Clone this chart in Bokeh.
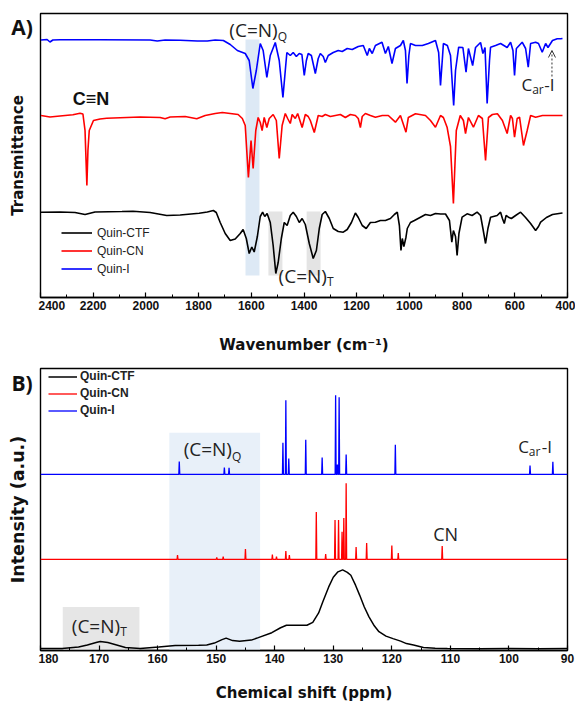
import numpy as np
from bokeh.plotting import figure
from bokeh.models import Range1d, FixedTicker, Label, Legend, LegendItem, Arrow, OpenHead
from bokeh.layouts import column, row
from bokeh.embed import file_html
from bokeh.resources import INLINE

# ------------------------------------------------------------------ data
# Panel A: FTIR (wavenumber in cm-1, transmittance in offset arbitrary units)
ir_ticks = [2400, 2200, 2000, 1800, 1600, 1400, 1200, 1000, 800, 600, 400]
ir_minor = [2300, 2100, 1900, 1700, 1500, 1300, 1100, 900, 700, 500]

blue_wn = [2398, 2375, 2364, 2353, 2326, 2174, 1984, 1957, 1927, 1870,
           1805, 1767, 1737, 1706, 1680, 1653, 1623, 1608, 1594, 1581,
           1566, 1555, 1541, 1528, 1509, 1494, 1480, 1471, 1465, 1452,
           1441, 1429, 1418, 1408, 1399, 1391, 1384, 1372, 1357, 1346,
           1338, 1327, 1319, 1308, 1289, 1270, 1255, 1236, 1217, 1194,
           1175, 1160, 1152, 1141, 1129, 1104, 1091, 1080, 1066, 1053,
           1034, 1023, 1015, 1009, 1002, 996, 977, 951, 928, 901,
           889, 882, 874, 871, 856, 844, 832, 825, 813, 797,
           785, 776, 760, 749, 730, 721, 713, 705, 696, 692,
           673, 654, 629, 616, 607, 601, 594, 572, 559, 549,
           540, 521, 510, 496, 483, 474, 457, 439, 426, 419]
blue_t = [257.5, 258, 255.5, 257.5, 257.7, 257.7, 257.5, 256.5, 257.5, 257.2,
          256.5, 256.5, 257.5, 257, 253, 247, 244, 237, 209, 227,
          254, 247, 220, 242, 255, 237, 200, 227, 245, 242,
          245, 241, 244, 243, 222, 237, 244, 242, 224, 239,
          244, 241, 235, 242, 245, 247, 246, 249, 248, 251,
          252, 242, 249, 244, 252, 255.3, 244, 251, 234, 249,
          252, 257, 247, 214, 242, 254, 252, 252, 254, 257,
          245, 212, 242, 254, 252, 242, 192, 227, 250.3, 250,
          225.3, 249, 232, 250, 255, 244, 250, 194, 237, 250.3,
          252, 254, 250, 255.3, 247, 222, 249, 255.3, 249, 230.3,
          254, 255.3, 254, 245.3, 254, 250, 257, 258.7, 258.7, 259]

red_wn = [2398, 2364, 2326, 2277, 2250, 2239, 2231, 2224, 2220, 2215,
          2199, 2174, 2149, 2098, 2022, 1946, 1927, 1908, 1851, 1807,
          1775, 1737, 1710, 1680, 1650, 1634, 1623, 1611, 1601, 1593,
          1583, 1574, 1566, 1559, 1551, 1541, 1532, 1517, 1505, 1494,
          1483, 1471, 1462, 1452, 1445, 1433, 1424, 1407, 1395, 1384,
          1376, 1361, 1346, 1331, 1319, 1300, 1281, 1262, 1243, 1224,
          1205, 1194, 1186, 1179, 1167, 1148, 1129, 1103, 1080, 1053,
          1034, 1013, 1004, 977, 939, 920, 901, 882, 871, 857,
          844, 833, 822, 807, 795, 787, 776, 757, 738, 723,
          711, 700, 685, 666, 647, 629, 616, 609, 601, 591,
          582, 567, 553, 540, 521, 495, 457, 426, 419]
red_t = [182, 180.5, 181.5, 182.7, 184.3, 183.5, 167, 112, 147, 167,
         177, 178.5, 179.3, 179.8, 180.5, 180, 178.7, 180.5, 181, 178.7,
         182, 184, 185, 184, 183, 179, 172, 120, 157, 129,
         167, 180, 175, 167, 180, 170, 179, 183, 177, 139,
         172, 184, 179, 174, 183, 179, 184, 170, 183, 181,
         177, 165, 182, 181, 183, 181, 182, 183, 180, 183,
         182, 179, 170, 181, 184, 182, 180.3, 182, 182, 175.3,
         182, 165.3, 180, 183.7, 182, 177, 170.3, 182, 180, 170.3,
         151, 94, 167, 182, 177, 164, 180, 170.3, 182, 179,
         137, 180, 183, 183.7, 177, 164, 182, 179, 160.3, 179,
         180.3, 152, 167, 182, 180.3, 182, 182, 182, 182]

black_wn = [2398, 2326, 2269, 2231, 2193, 2091, 2049, 1984, 1921, 1870,
            1798, 1767, 1744, 1733, 1718, 1699, 1680, 1661, 1642, 1631,
            1619, 1608, 1598, 1589, 1577, 1566, 1557, 1549, 1540, 1528,
            1517, 1507, 1498, 1486, 1475, 1464, 1452, 1441, 1429, 1418,
            1407, 1395, 1380, 1365, 1353, 1342, 1331, 1319, 1304, 1289,
            1270, 1251, 1236, 1220, 1205, 1194, 1179, 1164, 1148, 1129,
            1110, 1091, 1072, 1057, 1046, 1038, 1032, 1027, 1021, 1013,
            1008, 996, 981, 958, 939, 920, 901, 882, 863, 848,
            839, 833, 825, 819, 812, 800, 781, 762, 743, 730,
            721, 711, 702, 692, 667, 654, 647, 640, 633, 624,
            613, 597, 578, 560, 540, 521, 510, 502, 480, 457,
            426, 419]
black_t = [85.3, 85.5, 85, 83, 85.5, 86, 86.3, 85, 82, 82.5,
           84.3, 85.5, 87, 85, 75, 64, 57, 58.5, 64, 68,
           59, 44, 50.5, 45.5, 61, 81, 85.3, 81, 84, 75,
           52, 24, 35, 59, 75, 72, 82, 85.3, 81, 75,
           79, 73, 54, 39, 47, 69, 83, 86, 79, 69,
           66, 65.3, 68, 75, 84.5, 80, 72, 69, 75, 75.3,
           77, 77, 79, 83, 85.3, 72, 47, 59, 51, 60.3,
           69, 75, 77, 80.3, 83, 82, 84, 83.5, 83.5, 77,
           55.3, 67, 61, 42, 64, 80.3, 83.7, 82, 85.3, 82,
           69, 54, 69, 80.3, 82, 85.3, 79, 74, 82, 80.3,
           79, 82, 85.3, 80.3, 74, 67, 71, 75.3, 80, 83,
           84.3, 84.5]

# Panel B: 13C NMR (chemical shift in ppm, intensity in arbitrary units)
nmr_ticks = [180, 170, 160, 150, 140, 130, 120, 110, 100, 90]
nmr_minor = [175, 165, 155, 145, 135, 125, 115, 105, 95]

quin_i_ppm = [156.3, 148.6, 147.8, 138.6, 138.1, 137.6, 134.7, 131.9, 129.6, 129.3,
              129.0, 127.8, 119.4, 96.4, 92.5]
quin_i_int = [13, 7, 6.7, 32, 75, 16, 35, 17, 80, 10,
              78, 20, 30, 9, 12.7]

quin_cn_ppm = [156.6, 149.9, 148.8, 145.0, 140.4, 139.7, 138.1, 137.5, 132.9, 131.3,
               129.7, 129.1, 128.5, 128.2, 127.8, 126.1, 124.3, 120.0, 118.9, 111.4]
quin_cn_int = [4.5, 2, 3, 10.5, 5, 3, 8.5, 4.5, 48, 5.5,
               40, 40, 28, 42, 77, 12.5, 16.5, 14, 6.5, 13.5]

ctf_ppm = [180.0, 176.3, 173.5, 172.0, 170.5, 169.8, 168.5, 167.3, 165.5, 163.0,
           159.8, 157.0, 153.0, 151.6, 150.3, 149.0, 148.3, 147.2, 146.0, 144.0,
           142.8, 140.5, 139.0, 138.0, 136.5, 134.5, 133.5, 132.5, 131.8, 130.8,
           130.0, 129.2, 128.4, 127.6, 127.0, 126.2, 125.5, 124.7, 123.9, 123.0,
           122.2, 121.0, 119.8, 118.5, 117.5, 116.3, 114.6, 112.6, 110.5, 105.0,
           100.0, 95.0, 90.0]
ctf_int = [2, 2, 3.5, 5.5, 8, 9, 8, 6, 3, 2,
           3.5, 5, 5.3, 5.5, 7.5, 11, 12.5, 10, 9.3, 10.5,
           13, 18, 23, 25.5, 25.5, 25.5, 28.5, 38, 49, 64,
           74, 79.5, 81.5, 79, 76, 66, 56, 44, 34, 25,
           19, 14.5, 12, 9.5, 7, 5.5, 3, 2.3, 2, 1.8,
           2, 1.8, 2]

offset_quin_i = 178     # vertical offset of the Quin-I trace (panel B)
offset_quin_cn = 92     # vertical offset of the Quin-CN trace (panel B)

series_names = ["Quin-CTF", "Quin-CN", "Quin-I"]
series_colors = ["#000000", "#ff0000", "#0000ff"]

# highlighted regions
ir_band_q = (1622, 1569)
ir_bands_t = [(1535, 1482), (1390, 1337)]
nmr_band_q = (158.0, 142.5)
nmr_band_t = (176.2, 163.1)

# ------------------------------------------------------------------ helpers
TITLE_FONT = "DejaVu Sans"
TICK_FONT = "Liberation Sans"
ANN_FONT = "Open Sans"
ANN_COLOR = "#222222"
STRIP_W = 38


def stick_trace(ppm, inten, base, hi=180.0, lo=90.0, half=0.08):
    ppm = np.asarray(ppm, float)
    inten = np.asarray(inten, float)
    order = np.argsort(ppm)[::-1]
    xs, ys = [hi], [base]
    for i in order:
        xs += [ppm[i] + half, ppm[i], ppm[i] - half]
        ys += [base, base + inten[i], base]
    xs.append(lo)
    ys.append(base)
    return xs, ys


def style(p, ticks, minor, xtitle, xstand):
    p.grid.visible = False
    p.outline_line_color = "black"
    p.outline_line_width = 1.4
    p.background_fill_color = "white"
    p.border_fill_color = "white"
    p.yaxis.visible = False
    xa = p.xaxis[0]
    xa.ticker = FixedTicker(ticks=ticks, minor_ticks=minor)
    xa.major_tick_in = 5
    xa.major_tick_out = 0
    xa.minor_tick_in = 3
    xa.minor_tick_out = 0
    xa.axis_line_width = 1.4
    xa.major_tick_line_width = 1.2
    xa.minor_tick_line_width = 1.0
    xa.major_label_text_font = TICK_FONT
    xa.major_label_text_font_style = "bold"
    xa.major_label_text_font_size = "12px"
    xa.major_label_text_color = "#111111"
    xa.major_label_standoff = 3
    xa.axis_label = xtitle
    xa.axis_label_text_font = TITLE_FONT
    xa.axis_label_text_font_style = "bold"
    xa.axis_label_text_font_size = "15px"
    xa.axis_label_text_color = "#111111"
    xa.axis_label_standoff = xstand


def label(p, x, y, text, size, font=ANN_FONT, style="normal", align="left",
          color=ANN_COLOR, angle=0.0):
    p.add_layout(Label(x=x, y=y, text=text, text_font=font, text_font_size=size,
                       text_font_style=style, text_align=align, text_baseline="middle",
                       text_color=color, angle=angle))


def strip(height, top, bottom, tag, tag_y, title, title_y, title_size):
    """Left margin strip (frame aligned with the panel frame) holding the panel
    letter and the vertical axis title; its y data equal pixels from the bottom."""
    s = figure(width=STRIP_W, height=height, x_range=Range1d(0, STRIP_W),
               y_range=Range1d(bottom, height - top), output_backend="svg",
               toolbar_location=None, title=None, x_axis_location=None, y_axis_location=None,
               min_border_left=0, min_border_right=0,
               min_border_top=top, min_border_bottom=bottom)
    s.grid.visible = False
    s.outline_line_color = None
    s.background_fill_color = "white"
    s.border_fill_color = "white"
    label(s, 21.5, height - tag_y, tag, "21px", font=ANN_FONT, style="bold", align="center",
          color="#111111")
    label(s, 17, height - title_y, title, title_size, font=TITLE_FONT, style="bold",
          align="center", color="#111111", angle=np.pi / 2)
    return s


# ------------------------------------------------------------------ panel A
HA, TOP_A, BOT_A = 360, 13, 63
pA = figure(width=576 - STRIP_W - 1, height=HA, x_range=Range1d(2400, 400),
            y_range=Range1d(0, 284), output_backend="svg", toolbar_location=None, title=None,
            min_border_left=2, min_border_right=8, min_border_top=TOP_A,
            min_border_bottom=BOT_A)
style(pA, ir_ticks, ir_minor, "Wavenumber (cm\u207b\u00b9)", 23)

pA.quad(left=[ir_band_q[0]], right=[ir_band_q[1]], bottom=[22], top=[258],
        fill_color="#dde9f5", line_color=None, level="underlay")
pA.quad(left=[b[0] for b in ir_bands_t], right=[b[1] for b in ir_bands_t],
        bottom=[22, 22], top=[86, 86], fill_color="#e4e4e4", line_color=None, level="underlay")

rA_black = pA.line(black_wn, black_t, line_color=series_colors[0], line_width=1.6)
rA_red = pA.line(red_wn, red_t, line_color=series_colors[1], line_width=1.6)
rA_blue = pA.line(blue_wn, blue_t, line_color=series_colors[2], line_width=1.6)

legA = Legend(items=[LegendItem(label=series_names[0], renderers=[rA_black]),
                     LegendItem(label=series_names[1], renderers=[rA_red]),
                     LegendItem(label=series_names[2], renderers=[rA_blue])],
              location=(21, 21), orientation="vertical",
              glyph_width=31, glyph_height=15, label_height=15, label_width=10,
              label_standoff=5, spacing=3, padding=0, margin=0,
              label_text_font=TICK_FONT, label_text_font_size="12px",
              label_text_color="#222222",
              border_line_color=None, background_fill_alpha=0)
pA.add_layout(legA)

label(pA, 1500, 268, "(C=N)", "19px", align="right")
label(pA, 1500, 261, "Q", "12px", align="left")
label(pA, 2208, 199, "C\u2261N", "18px", font=TICK_FONT, style="bold", align="center",
      color="#111111")
label(pA, 1313, 22, "(C=N)", "19px", align="right")
label(pA, 1313, 16, "T", "12px", align="left")
label(pA, 534, 213, "C", "17px", align="right")
label(pA, 534, 208.5, "ar", "12px", align="left")
label(pA, 488, 213, "-I", "17px", align="left")
pA.add_layout(Arrow(end=OpenHead(size=7, line_width=1, line_color="#333333"),
                    x_start=459, y_start=221, x_end=459, y_end=247,
                    line_dash="2 2", line_width=1, line_color="#333333"))

sA = strip(HA, TOP_A, BOT_A, "A)", 26, "Transmittance", 155, "15px")

# ------------------------------------------------------------------ panel B
HB, TOP_B, BOT_B = 344, 8, 51
pB = figure(width=576 - STRIP_W - 1, height=HB, x_range=Range1d(180, 90),
            y_range=Range1d(0, 285), output_backend="svg", toolbar_location=None, title=None,
            min_border_left=2, min_border_right=8, min_border_top=TOP_B,
            min_border_bottom=BOT_B)
style(pB, nmr_ticks, nmr_minor, "Chemical shift (ppm)", 18)

pB.quad(left=[nmr_band_q[0]], right=[nmr_band_q[1]], bottom=[0], top=[220],
        fill_color="#e8f0f9", line_color=None, level="underlay")
pB.quad(left=[nmr_band_t[0]], right=[nmr_band_t[1]], bottom=[0], top=[44],
        fill_color="#e6e6e6", line_color=None, level="underlay")

xi, yi = stick_trace(quin_i_ppm, quin_i_int, offset_quin_i)
xc, yc = stick_trace(quin_cn_ppm, quin_cn_int, offset_quin_cn)
rB_black = pB.line(ctf_ppm, ctf_int, line_color=series_colors[0], line_width=1.5)
rB_red = pB.line(xc, yc, line_color=series_colors[1], line_width=1.3)
rB_blue = pB.line(xi, yi, line_color=series_colors[2], line_width=1.3)

legB = Legend(items=[LegendItem(label=series_names[0], renderers=[rB_black]),
                     LegendItem(label=series_names[1], renderers=[rB_red]),
                     LegendItem(label=series_names[2], renderers=[rB_blue])],
              location=(8, 233), orientation="vertical",
              glyph_width=29, glyph_height=13, label_height=13, label_width=10,
              label_standoff=3, spacing=3, padding=0, margin=0,
              label_text_font=TICK_FONT, label_text_font_size="12px",
              label_text_font_style="bold", label_text_color="#222222",
              border_line_color=None, background_fill_alpha=0)
pB.add_layout(legB)

label(pB, 147.3, 204, "(C=N)", "19px", align="right")
label(pB, 147.3, 196.5, "Q", "12px", align="left")
label(pB, 96.6, 205.7, "C", "17px", align="right")
label(pB, 96.6, 201, "ar", "12px", align="left")
label(pB, 94.4, 205.7, "-I", "17px", align="left")
label(pB, 110.8, 118, "CN", "18px", align="center")
label(pB, 166.4, 24.7, "(C=N)", "19px", align="right")
label(pB, 166.4, 19, "T", "12px", align="left")

sB = strip(HB, TOP_B, BOT_B, "B)", 22.5, "Intensity (a.u.)", 150.5, "17.5px")

layout = column(row(sA, pA, spacing=0), row(sB, pB, spacing=0), spacing=0)
open("out.html", "w").write(file_html(layout, INLINE))
